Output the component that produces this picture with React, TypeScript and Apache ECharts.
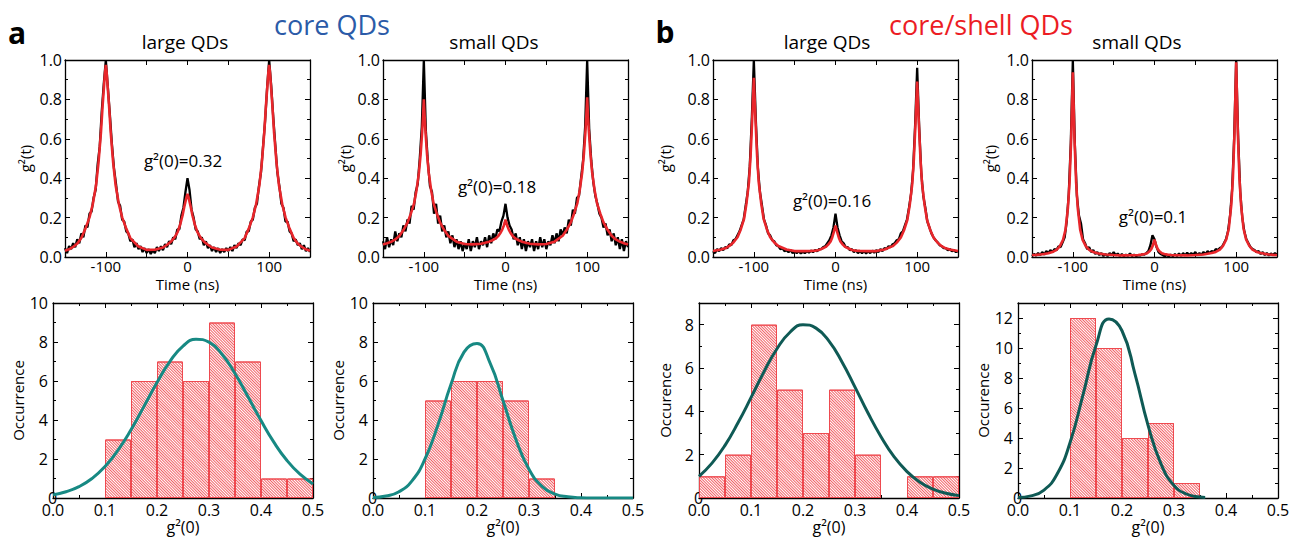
import React, { useEffect, useRef } from 'react';
import * as echarts from 'echarts';

const FONT = "'Open Sans', sans-serif";

// ---------- top row: g2(t) traces ----------
const BLACK_T = [
  -150, -147.5, -145, -142.5, -140, -137.5, -135, -132.5, -130, -127.5,
  -125, -122.5, -120, -117.5, -115, -112.5, -110, -107.5, -105, -102.5,
  -100, -97.5, -95, -92.5, -90, -87.5, -85, -82.5, -80, -77.5,
  -75, -72.5, -70, -67.5, -65, -62.5, -60, -57.5, -55, -52.5,
  -50, -47.5, -45, -42.5, -40, -37.5, -35, -32.5, -30, -27.5,
  -25, -22.5, -20, -17.5, -15, -12.5, -10, -7.5, -5, -2.5,
  0, 2.5, 5, 7.5, 10, 12.5, 15, 17.5, 20, 22.5,
  25, 27.5, 30, 32.5, 35, 37.5, 40, 42.5, 45, 47.5,
  50, 52.5, 55, 57.5, 60, 62.5, 65, 67.5, 70, 72.5,
  75, 77.5, 80, 82.5, 85, 87.5, 90, 92.5, 95, 97.5,
  100, 102.5, 105, 107.5, 110, 112.5, 115, 117.5, 120, 122.5,
  125, 127.5, 130, 132.5, 135, 137.5, 140, 142.5, 145, 147.5,
  150,
];

const RED_T = [
  -150, -145, -140, -135, -130, -125, -120, -116, -112, -109, -106, -104, -102, -101,
  -100, -99, -98, -96, -94, -91, -88, -84, -80, -75, -70, -60, -50,
  -40, -30, -25, -20, -16, -12, -9, -6, -4, -2, -1, 0, 1, 2, 4, 6, 9, 12, 16, 20, 25, 30, 40,
  50, 60, 70, 75, 80, 84, 88, 91, 94, 96, 98, 99, 100, 101, 102, 104, 106, 109, 112, 116,
  120, 125, 130, 135, 140, 145, 150,
];

const CORE_LARGE_BLACK = [
  0.045, 0.02, 0.055, 0.04, 0.07, 0.05, 0.09, 0.07, 0.12, 0.1,
  0.16, 0.15, 0.22, 0.23, 0.3, 0.34, 0.47, 0.56, 0.74, 0.88,
  1.0, 0.86, 0.72, 0.57, 0.45, 0.37, 0.28, 0.26, 0.19, 0.18,
  0.13, 0.12, 0.08, 0.09, 0.05, 0.07, 0.04, 0.055, 0.025, 0.045,
  0.02, 0.04, 0.015, 0.035, 0.02, 0.05, 0.03, 0.055, 0.035, 0.065,
  0.05, 0.08, 0.065, 0.1, 0.09, 0.14, 0.14, 0.21, 0.25, 0.33,
  0.4, 0.34, 0.24, 0.2, 0.14, 0.13, 0.09, 0.1, 0.06, 0.08,
  0.045, 0.06, 0.03, 0.05, 0.025, 0.045, 0.02, 0.04, 0.025, 0.045,
  0.03, 0.05, 0.03, 0.06, 0.045, 0.07, 0.06, 0.09, 0.085, 0.13,
  0.13, 0.18, 0.19, 0.25, 0.27, 0.36, 0.43, 0.56, 0.69, 0.86,
  1.0, 0.87, 0.71, 0.57, 0.43, 0.36, 0.27, 0.25, 0.18, 0.18,
  0.13, 0.12, 0.08, 0.09, 0.06, 0.07, 0.04, 0.06, 0.03, 0.045,
  0.025,
];
const CORE_LARGE_RED = [
  0.032, 0.039, 0.051, 0.068, 0.096, 0.144, 0.201, 0.268, 0.364, 0.478, 0.631, 0.765, 0.88, 0.937,
  0.975, 0.937, 0.88, 0.765, 0.631, 0.478, 0.364, 0.268, 0.201, 0.144, 0.096, 0.053, 0.036,
  0.037, 0.048, 0.062, 0.079, 0.098, 0.128, 0.164, 0.212, 0.254, 0.29, 0.308, 0.32, 0.308, 0.29, 0.254, 0.212, 0.164, 0.128, 0.098, 0.079, 0.062, 0.048, 0.037,
  0.036, 0.053, 0.096, 0.144, 0.201, 0.268, 0.364, 0.478, 0.631, 0.765, 0.88, 0.937, 0.975, 0.937, 0.88, 0.765, 0.631, 0.478, 0.364, 0.268,
  0.201, 0.144, 0.096, 0.068, 0.051, 0.039, 0.032,
];

const CORE_SMALL_BLACK = [
  0.08, 0.04, 0.1, 0.05, 0.09, 0.06, 0.13, 0.08, 0.12, 0.1,
  0.16, 0.13, 0.19, 0.17, 0.26, 0.24, 0.33, 0.37, 0.5, 0.66,
  1.0, 0.64, 0.48, 0.36, 0.33, 0.22, 0.27, 0.17, 0.21, 0.13,
  0.16, 0.1, 0.13, 0.07, 0.11, 0.05, 0.09, 0.04, 0.08, 0.03,
  0.07, 0.04, 0.09, 0.03, 0.08, 0.05, 0.1, 0.04, 0.08, 0.06,
  0.1, 0.05, 0.11, 0.07, 0.12, 0.09, 0.14, 0.13, 0.18, 0.21,
  0.27, 0.2, 0.16, 0.14, 0.09, 0.12, 0.06, 0.1, 0.04, 0.09,
  0.03, 0.08, 0.05, 0.09, 0.03, 0.08, 0.04, 0.1, 0.05, 0.09,
  0.04, 0.08, 0.06, 0.11, 0.07, 0.12, 0.08, 0.14, 0.11, 0.15,
  0.12, 0.19, 0.16, 0.24, 0.22, 0.3, 0.31, 0.4, 0.49, 0.66,
  1.0, 0.65, 0.49, 0.38, 0.31, 0.27, 0.22, 0.2, 0.15, 0.17,
  0.11, 0.14, 0.08, 0.12, 0.06, 0.1, 0.04, 0.09, 0.03, 0.08,
  0.05,
];
const CORE_SMALL_RED = [
  0.064, 0.07, 0.077, 0.089, 0.107, 0.137, 0.174, 0.219, 0.271, 0.338, 0.428, 0.517, 0.636, 0.711,
  0.8, 0.711, 0.636, 0.517, 0.428, 0.338, 0.271, 0.219, 0.174, 0.137, 0.107, 0.078, 0.066,
  0.064, 0.067, 0.072, 0.078, 0.085, 0.094, 0.106, 0.123, 0.139, 0.16, 0.174, 0.19, 0.174, 0.16, 0.139, 0.123, 0.106, 0.094, 0.085, 0.078, 0.072, 0.067, 0.064,
  0.066, 0.078, 0.108, 0.138, 0.176, 0.221, 0.274, 0.342, 0.433, 0.523, 0.644, 0.719, 0.81, 0.719, 0.644, 0.523, 0.433, 0.342, 0.274, 0.221,
  0.176, 0.138, 0.108, 0.089, 0.078, 0.07, 0.064,
];

const SHELL_LARGE_BLACK = [
  0.03, 0.02, 0.04, 0.03, 0.045, 0.035, 0.05, 0.045, 0.065, 0.06,
  0.085, 0.09, 0.11, 0.13, 0.16, 0.19, 0.26, 0.33, 0.46, 0.7,
  1.0, 0.69, 0.45, 0.33, 0.26, 0.19, 0.16, 0.12, 0.11, 0.085,
  0.08, 0.06, 0.055, 0.04, 0.045, 0.03, 0.035, 0.025, 0.035, 0.02,
  0.03, 0.02, 0.03, 0.018, 0.028, 0.02, 0.03, 0.022, 0.032, 0.025,
  0.035, 0.03, 0.04, 0.04, 0.05, 0.055, 0.07, 0.085, 0.11, 0.15,
  0.22, 0.15, 0.11, 0.08, 0.07, 0.05, 0.05, 0.035, 0.04, 0.025,
  0.035, 0.02, 0.03, 0.02, 0.03, 0.018, 0.03, 0.02, 0.032, 0.022,
  0.035, 0.025, 0.04, 0.03, 0.045, 0.04, 0.055, 0.05, 0.065, 0.07,
  0.085, 0.09, 0.12, 0.13, 0.16, 0.19, 0.25, 0.32, 0.44, 0.67,
  0.96, 0.66, 0.43, 0.31, 0.25, 0.18, 0.15, 0.12, 0.1, 0.085,
  0.075, 0.06, 0.055, 0.045, 0.045, 0.035, 0.04, 0.03, 0.035, 0.025,
  0.03,
];
const SHELL_LARGE_RED = [
  0.03, 0.034, 0.038, 0.044, 0.056, 0.074, 0.1, 0.14, 0.193, 0.273, 0.379, 0.512, 0.698, 0.804,
  0.91, 0.804, 0.698, 0.512, 0.379, 0.273, 0.193, 0.14, 0.1, 0.074, 0.056, 0.038, 0.03,
  0.03, 0.031, 0.032, 0.036, 0.043, 0.051, 0.063, 0.079, 0.099, 0.128, 0.144, 0.16, 0.144, 0.128, 0.099, 0.079, 0.063, 0.051, 0.043, 0.036, 0.032, 0.031, 0.03,
  0.03, 0.038, 0.055, 0.073, 0.099, 0.137, 0.189, 0.267, 0.371, 0.501, 0.682, 0.786, 0.89, 0.786, 0.682, 0.501, 0.371, 0.267, 0.189, 0.137,
  0.099, 0.073, 0.055, 0.044, 0.038, 0.034, 0.03,
];

const SHELL_SMALL_BLACK = [
  0.005, 0.015, 0.008, 0.02, 0.01, 0.025, 0.012, 0.03, 0.02, 0.035,
  0.025, 0.04, 0.035, 0.055, 0.05, 0.075, 0.1, 0.18, 0.32, 0.58,
  1.0, 0.57, 0.31, 0.21, 0.17, 0.09, 0.07, 0.04, 0.05, 0.025,
  0.035, 0.015, 0.025, 0.01, 0.02, 0.005, 0.015, 0.005, 0.02, 0.01,
  0.025, 0.008, 0.018, 0.005, 0.015, 0.004, 0.012, 0.006, 0.018, 0.005,
  0.012, 0.004, 0.01, 0.008, 0.014, 0.012, 0.02, 0.03, 0.06, 0.11,
  0.09, 0.05, 0.025, 0.015, 0.01, 0.004, 0.01, 0.003, 0.012, 0.004,
  0.015, 0.005, 0.018, 0.006, 0.02, 0.008, 0.022, 0.01, 0.02, 0.012,
  0.025, 0.01, 0.02, 0.012, 0.025, 0.015, 0.03, 0.02, 0.03, 0.025,
  0.04, 0.035, 0.045, 0.05, 0.07, 0.09, 0.13, 0.21, 0.34, 0.6,
  1.0, 0.6, 0.33, 0.2, 0.13, 0.09, 0.07, 0.05, 0.04, 0.035,
  0.025, 0.03, 0.015, 0.025, 0.01, 0.02, 0.008, 0.018, 0.01, 0.02,
  0.012,
];
const SHELL_SMALL_RED = [
  0.01, 0.011, 0.013, 0.015, 0.019, 0.025, 0.036, 0.054, 0.087, 0.138, 0.25, 0.38, 0.603, 0.771,
  0.938, 0.771, 0.603, 0.38, 0.25, 0.138, 0.087, 0.054, 0.036, 0.025, 0.019, 0.013, 0.01,
  0.008, 0.009, 0.009, 0.01, 0.012, 0.015, 0.019, 0.029, 0.04, 0.059, 0.074, 0.088, 0.074, 0.059, 0.04, 0.029, 0.019, 0.015, 0.012, 0.01, 0.009, 0.009, 0.008,
  0.01, 0.013, 0.02, 0.026, 0.037, 0.057, 0.091, 0.145, 0.263, 0.4, 0.635, 0.812, 0.988, 0.812, 0.635, 0.4, 0.263, 0.145, 0.091, 0.057,
  0.037, 0.026, 0.02, 0.016, 0.013, 0.011, 0.01,
];

const TIME_LABELS = [-100, 0, 100];

// ---------- bottom row: histograms of g2(0) ----------
const BIN_LABELS = ['0.00-0.05', '0.05-0.10', '0.10-0.15', '0.15-0.20', '0.20-0.25', '0.25-0.30', '0.30-0.35', '0.35-0.40', '0.40-0.45', '0.45-0.50'];
const CORE_LARGE_HIST = [0, 0, 3, 6, 7, 6, 9, 7, 1, 1];
const CORE_SMALL_HIST = [0, 0, 5, 6, 6, 5, 1, 0, 0, 0];
const SHELL_LARGE_HIST = [1, 2, 8, 5, 3, 5, 2, 0, 1, 1];
const SHELL_SMALL_HIST = [0, 0, 12, 10, 4, 5, 1, 0, 0, 0];

const FIT_X = [0, 0.025, 0.05, 0.075, 0.1, 0.125, 0.15, 0.175, 0.2, 0.225, 0.25, 0.275, 0.3, 0.325, 0.35, 0.375, 0.4, 0.425, 0.45, 0.475, 0.5];
const CORE_LARGE_FIT = [0.16, 0.32, 0.58, 1.0, 1.61, 2.45, 3.5, 4.7, 5.92, 7.01, 7.79, 8.14, 7.99, 7.37, 6.38, 5.19, 3.97, 2.85, 1.92, 1.22, 0.72];
const CORE_SMALL_FIT = [0.02, 0.1, 0.32, 0.88, 2.0, 3.76, 5.83, 7.48, 7.92, 6.93, 5.0, 2.99, 1.47, 0.6, 0.2, 0.06, 0.013, 0.002, 0, 0, 0];
const SHELL_LARGE_FIT = [1.0, 1.61, 2.43, 3.47, 4.63, 5.83, 6.89, 7.65, 8.0, 7.84, 7.24, 6.28, 5.12, 3.92, 2.83, 1.91, 1.22, 0.73, 0.41, 0.22, 0.11];
const SHELL_SMALL_FIT_X = [0, 0.025, 0.05, 0.075, 0.1, 0.125, 0.15, 0.175, 0.2, 0.225, 0.25, 0.275, 0.3, 0.325, 0.35, 0.36];
const SHELL_SMALL_FIT = [0.03, 0.14, 0.53, 1.58, 3.68, 6.87, 10.16, 11.94, 11.15, 8.26, 4.86, 2.27, 0.84, 0.25, 0.06, 0.03];

const zip = (xs: number[], ys: number[]) => xs.map((x, i) => [x, ys[i]]);

export default function App() {
  const ref = useRef<HTMLDivElement>(null);

  useEffect(() => {
    document.body.style.margin = '0';
    const chart = echarts.init(ref.current!, undefined, { renderer: 'svg' });

    const grid: any[] = [];
    const xAxis: any[] = [];
    const yAxis: any[] = [];
    const series: any[] = [];

    const axisLine = { show: true, onZero: false, lineStyle: { color: '#000', width: 1.3 } };
    const axisTick = { show: true, inside: true, length: 5, lineStyle: { color: '#000', width: 1 } };
    const minorTick = { show: true, splitNumber: 2, length: 3, lineStyle: { color: '#000', width: 1 } };
    const lbl = { color: '#000', fontSize: 16, fontFamily: FONT, margin: 3 };
    const nameStyle = { color: '#000', fontSize: 15, fontFamily: FONT };

    const addTop = (left: number, yGap: number, black: number[], red: number[]) => {
      const g = grid.length;
      grid.push({ left, top: 60, width: 245, height: 197 });
      const xi = xAxis.length;
      const common = { type: 'value', gridIndex: g, min: -150, max: 150, interval: 50, axisLine, axisTick, splitLine: { show: false } };
      xAxis.push({
        ...common,
        axisLabel: { ...lbl, fontSize: 15, margin: 1, lineHeight: 15, formatter: (v: number) => (TIME_LABELS.includes(v) ? String(v) : '') },
        name: 'Time (ns)', nameLocation: 'middle', nameGap: 19, nameTextStyle: { ...nameStyle, lineHeight: 15 },
      });
      xAxis.push({ ...common, position: 'top', axisLabel: { show: false } });
      const yi = yAxis.length;
      const yc = { type: 'value', gridIndex: g, min: 0, max: 1, interval: 0.2, axisLine, axisTick, minorTick, splitLine: { show: false } };
      yAxis.push({
        ...yc,
        axisLabel: { ...lbl, formatter: (v: number) => v.toFixed(1) },
        name: 'g²(t)', nameLocation: 'middle', nameGap: yGap, nameTextStyle: nameStyle,
      });
      yAxis.push({ ...yc, position: 'right', axisLabel: { show: false } });
      series.push({
        type: 'line', xAxisIndex: xi, yAxisIndex: yi, data: zip(BLACK_T, black),
        showSymbol: false, symbol: 'none', lineStyle: { color: '#000', width: 2.3 }, z: 2,
      });
      series.push({
        type: 'line', xAxisIndex: xi, yAxisIndex: yi, data: zip(RED_T, red),
        showSymbol: false, symbol: 'none', lineStyle: { color: '#e8262b', width: 2.6 }, z: 3,
      });
    };

    const addHist = (
      left: number, yMax: number, yGap: number, yName: string,
      hist: number[], fx: number[], fy: number[], fitColor: string,
    ) => {
      const g = grid.length;
      grid.push({ left, top: 303, width: 260, height: 195 });
      const xi = xAxis.length;
      const xc = { type: 'value', gridIndex: g, min: 0, max: 0.5, interval: 0.1, axisLine, axisTick, minorTick, splitLine: { show: false } };
      xAxis.push({
        ...xc,
        axisLabel: { ...lbl, margin: 4, lineHeight: 16, formatter: (v: number) => v.toFixed(1) },
        name: 'g²(0)', nameLocation: 'middle', nameGap: 19,
        nameTextStyle: { ...nameStyle, fontSize: 16, lineHeight: 16 },
      });
      xAxis.push({ ...xc, position: 'top', axisLabel: { show: false } });
      const ci = xAxis.length;
      xAxis.push({ type: 'category', gridIndex: g, data: BIN_LABELS, show: false, boundaryGap: true });
      const yi = yAxis.length;
      const yc = { type: 'value', gridIndex: g, min: 0, max: yMax, interval: 2, axisLine, axisTick, minorTick, splitLine: { show: false } };
      yAxis.push({
        ...yc,
        axisLabel: { ...lbl, margin: 5, alignMinLabel: 'bottom', formatter: (v: number) => (v % 2 === 0 ? String(v) : '') },
        name: yName, nameLocation: 'middle', nameGap: yGap, nameTextStyle: nameStyle,
      });
      yAxis.push({ ...yc, position: 'right', axisLabel: { show: false } });
      series.push({
        type: 'bar', xAxisIndex: ci, yAxisIndex: yi,
        data: hist.map((v) => (v === 0 ? '-' : v)),
        barWidth: '100%', barCategoryGap: 0,
        itemStyle: {
          color: '#ffffff', borderColor: '#ee4a50', borderWidth: 1,
          decal: {
            symbol: 'rect', symbolSize: 1, color: 'rgba(240,70,76,0.85)', backgroundColor: '#ffffff',
            dashArrayX: [1, 0], dashArrayY: [1, 1], rotation: Math.PI / 4,
          },
        },
        z: 2,
      });
      series.push({
        type: 'line', xAxisIndex: xi, yAxisIndex: yi, data: zip(fx, fy), smooth: true,
        showSymbol: false, symbol: 'none', lineStyle: { color: fitColor, width: 3 }, z: 3,
      });
    };

    addTop(65, 33, CORE_LARGE_BLACK, CORE_LARGE_RED);
    addTop(383, 31, CORE_SMALL_BLACK, CORE_SMALL_RED);
    addTop(713, 41, SHELL_LARGE_BLACK, SHELL_LARGE_RED);
    addTop(1032, 35, SHELL_SMALL_BLACK, SHELL_SMALL_RED);

    addHist(53, 10, 23, 'Occurrence', CORE_LARGE_HIST, FIT_X, CORE_LARGE_FIT, '#178983');
    addHist(373, 10, 23, 'Occurrence', CORE_SMALL_HIST, FIT_X, CORE_SMALL_FIT, '#178983');
    addHist(699, 9, 27, 'Occurence', SHELL_LARGE_HIST, FIT_X, SHELL_LARGE_FIT, '#0f5a55');
    addHist(1018, 13, 28, 'Occurence', SHELL_SMALL_HIST, SHELL_SMALL_FIT_X, SHELL_SMALL_FIT, '#0f5a55');

    const txt = (text: string, x: number, y: number, size: number, color = '#000', weight = 'normal') => ({
      type: 'text', x, y, z: 10,
      style: {
        text, fill: color, fontSize: size, fontWeight: weight, fontFamily: FONT,
        align: 'center', verticalAlign: 'middle', textAlign: 'center', textVerticalAlign: 'middle',
      },
    });

    const graphic = [
      txt('a', 17, 32, 30, '#000', 'bold'),
      txt('b', 665, 31, 30, '#000', 'bold'),
      txt('core QDs', 332, 24, 27, '#2b5ba8'),
      txt('core/shell QDs', 981, 24, 27, '#ec1c24'),
      txt('large QDs', 185, 42, 19),
      txt('small QDs', 494, 42, 19),
      txt('large QDs', 827, 42, 19),
      txt('small QDs', 1137, 42, 19),
      txt('g²(0)=0.32', 183, 160, 17),
      txt('g²(0)=0.18', 497, 186, 17),
      txt('g²(0)=0.16', 832, 200, 17),
      txt('g²(0)=0.1', 1153, 216, 17),
    ];

    chart.setOption({
      animation: false,
      backgroundColor: '#ffffff',
      textStyle: { fontFamily: FONT },
      grid, xAxis, yAxis, series, graphic,
    });

    return () => chart.dispose();
  }, []);

  return <div ref={ref} style={{ width: 1295, height: 538 }} />;
}
